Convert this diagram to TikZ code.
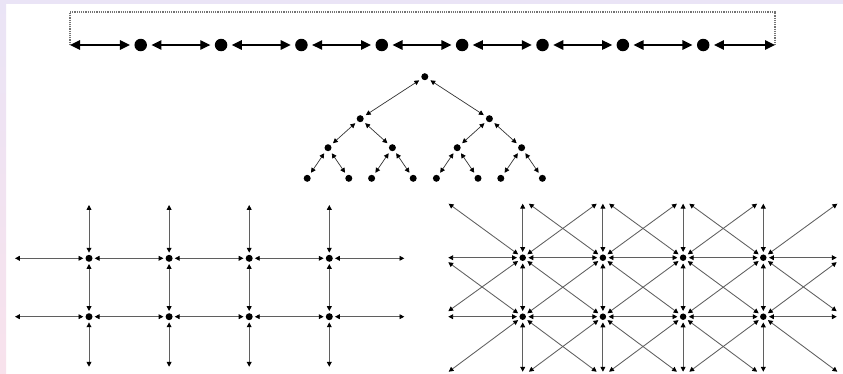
\documentclass[tikz,border=0pt]{standalone}
\usepackage{tikz}
\usetikzlibrary{arrows.meta, positioning, calc}
\usepackage{xcolor}
\definecolor{lavender}{RGB}{234,228,246}
\definecolor{blush}{RGB}{248,226,236}
\definecolor{linkgray}{RGB}{95,95,95}

\tikzset{
  bigdot/.style={circle, fill=black, inner sep=0pt, minimum size=12.5pt, outer sep=4.5pt},
  dot/.style={circle, fill=black, inner sep=0pt, minimum size=7pt, outer sep=2.2pt},
  treedot/.style={dot, outer sep=3.2pt},
  hdot/.style={dot, minimum size=6.5pt, outer sep=2.5pt},
  bigwire/.style={{Triangle[length=10pt,width=9.5pt]}-{Triangle[length=10pt,width=9.5pt]}, line width=1.3pt},
  link/.style={{Triangle[length=4.8pt,width=4.8pt,color=black]}-{Triangle[length=4.8pt,width=4.8pt,color=black]}, line width=0.85pt, draw=linkgray},
  frame/.style={densely dotted, line width=1.2pt, draw=black!55},
}

\begin{document}
\begin{tikzpicture}[x=1pt, y=-1pt]
  \useasboundingbox (0,0) rectangle (843,373);
  % Background
  \fill[white] (0,0) rectangle (843,373);
  \fill[lavender] (0,0) rectangle (843,4);
  \shade[top color=lavender, bottom color=blush] (0,0) rectangle (6,373);

  % Ring
  \coordinate (ringL) at (70,45);
  \coordinate (ringR) at (775,45);
  \coordinate (ringTL) at (70,12);
  \coordinate (ringTR) at (775,12);
  \foreach \i in {1,...,8}
    \node[bigdot] (r\i) at ({140.7+80.36*(\i-1)},45) {};
  \draw[frame] (ringL) -- (ringTL) -- (ringTR) -- (ringR);
  \draw[bigwire] (ringL) -- (r1);
  \foreach \i [evaluate=\i as \n using int(\i+1)] in {1,...,7}
    \draw[bigwire] (r\i) -- (r\n);
  \draw[bigwire] (r8) -- (ringR);

  % Tree
  \begin{scope}[edge from parent/.style={draw, link, draw=black!80, line width=0.7pt},
      level 1/.style={level distance=42pt, sibling distance=129.2pt},
      level 2/.style={level distance=29pt, sibling distance=64.4pt},
      level 3/.style={level distance=30.6pt, sibling distance=41.6pt}]
    \node[treedot] (t) at (424.8,76.7) {}
      child {node[treedot] {}
        child {node[treedot] {} child {node[treedot] {}} child {node[treedot] {}}}
        child {node[treedot] {} child {node[treedot] {}} child {node[treedot] {}}}}
      child {node[treedot] {}
        child {node[treedot] {} child {node[treedot] {}} child {node[treedot] {}}}
        child {node[treedot] {} child {node[treedot] {}} child {node[treedot] {}}}};
  \end{scope}

  % Mesh
  \foreach \x [count=\i] in {89,169.1,249.2,329.3} {
    \node[dot] (g\i-1) at (\x,258.3) {};
    \node[dot] (g\i-2) at (\x,316.7) {};
    \coordinate (gn\i) at (\x,205);
    \coordinate (gs\i) at (\x,366.7);
  }
  \coordinate (gw1) at (15,258.3);
  \coordinate (gw2) at (15,316.7);
  \coordinate (ge1) at (404.3,258.3);
  \coordinate (ge2) at (404.3,316.7);
  \foreach \i [evaluate=\i as \n using int(\i+1)] in {1,2,3} {
    \draw[link] (g\i-1) -- (g\n-1);
    \draw[link] (g\i-2) -- (g\n-2);
  }
  \foreach \i in {1,...,4} {
    \draw[link] (g\i-1) -- (g\i-2);
    \draw[link] (g\i-1) -- (gn\i);
    \draw[link] (g\i-2) -- (gs\i);
  }
  \draw[link] (g1-1) -- (gw1);
  \draw[link] (g1-2) -- (gw2);
  \draw[link] (g4-1) -- (ge1);
  \draw[link] (g4-2) -- (ge2);

  % Mesh with diagonals
  \foreach \x [count=\i] in {522.7,602.9,683.1,763.3} {
    \node[hdot] (h\i-1) at (\x,257.7) {};
    \node[hdot] (h\i-2) at (\x,316.7) {};
    \coordinate (hn\i) at (\x,203.7);
    \coordinate (hnw\i) at (\x-74,203.7);
    \coordinate (hne\i) at (\x+74,203.7);
    \coordinate (hs\i) at (\x,371.7);
    \coordinate (hsw\i) at (\x-74,371.7);
    \coordinate (hse\i) at (\x+74,371.7);
  }
  \coordinate (hw1) at (448.3,257.7);
  \coordinate (hw2) at (448.3,316.7);
  \coordinate (hwd) at (448.3,311.2);
  \coordinate (hwu) at (448.3,262.2);
  \coordinate (he1) at (836.7,257.7);
  \coordinate (he2) at (836.7,316.7);
  \coordinate (hed) at (836.7,311.2);
  \coordinate (heu) at (836.7,262.2);
  \foreach \i [evaluate=\i as \n using int(\i+1)] in {1,2,3} {
    \draw[link] (h\i-1) -- (h\n-1);
    \draw[link] (h\i-2) -- (h\n-2);
    \draw[link] (h\i-1) -- (h\n-2);
    \draw[link] (h\i-2) -- (h\n-1);
  }
  \foreach \i in {1,...,4} {
    \draw[link] (h\i-1) -- (h\i-2);
    \draw[link] (h\i-1) -- (hn\i);
    \draw[link] (h\i-1) -- (hnw\i);
    \draw[link] (h\i-1) -- (hne\i);
    \draw[link] (h\i-2) -- (hs\i);
    \draw[link] (h\i-2) -- (hsw\i);
    \draw[link] (h\i-2) -- (hse\i);
  }
  \draw[link] (h1-1) -- (hw1);
  \draw[link] (h1-1) -- (hwd);
  \draw[link] (h1-2) -- (hw2);
  \draw[link] (h1-2) -- (hwu);
  \draw[link] (h4-1) -- (he1);
  \draw[link] (h4-1) -- (hed);
  \draw[link] (h4-2) -- (he2);
  \draw[link] (h4-2) -- (heu);
\end{tikzpicture}
\end{document}
